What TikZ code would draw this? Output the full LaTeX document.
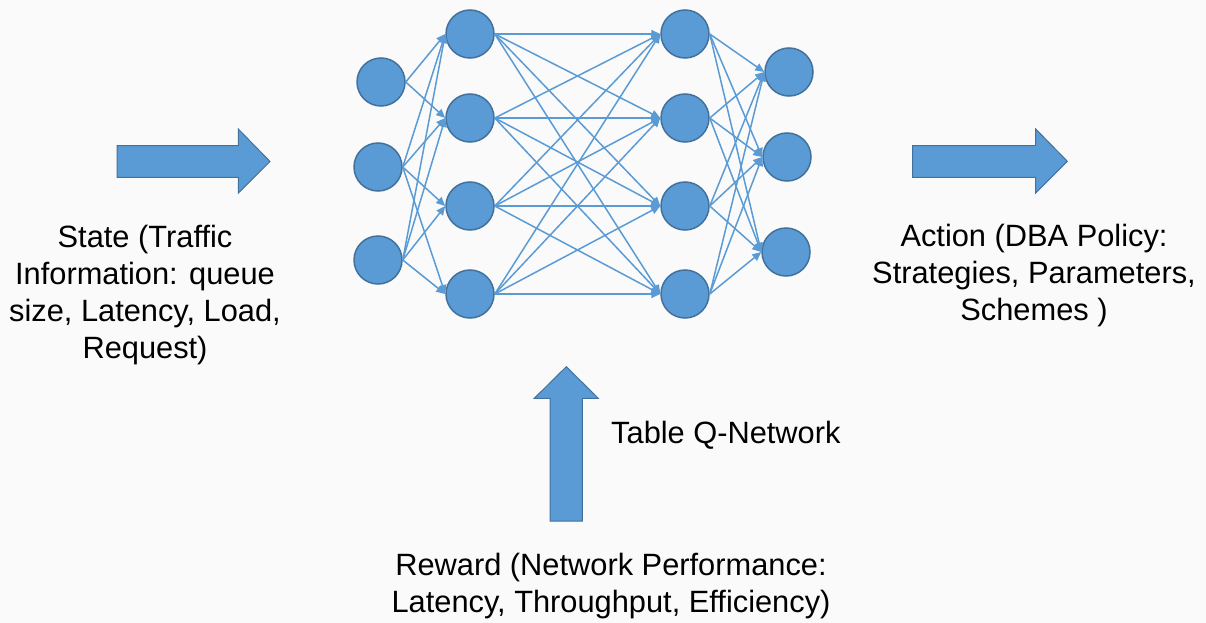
\documentclass[tikz,border=0pt]{standalone}
\usepackage{fontspec}
\setmainfont{Liberation Sans}
\usetikzlibrary{arrows.meta}
\definecolor{bgcol}{HTML}{FAFAFA}
\definecolor{nodeblue}{HTML}{5B9BD5}
\definecolor{borderblue}{HTML}{41719C}
\tikzset{
  neuron/.style={circle, minimum size=48pt, inner sep=0pt, fill=nodeblue, draw=borderblue, line width=1.5pt},
  conn/.style={draw=nodeblue, line width=1.5pt, -{Triangle[length=9pt,width=8pt]}},
  blockarrow/.style={fill=nodeblue, draw=borderblue, line width=1pt, line join=miter},
  label/.style={font=\fontsize{30.8}{37}\selectfont, align=center, inner sep=0pt, text=black}
}
\begin{document}
\begin{tikzpicture}[x=1pt, y=-1pt]
\fill[bgcol] (0,0) rectangle (1206,623);
\useasboundingbox (0,0) rectangle (1206,623);
% layer 1
\node[neuron] (a1) at (381,82) {};
\node[neuron] (a2) at (378,167) {};
\node[neuron] (a3) at (378,260) {};
% layer 2
\node[neuron] (b1) at (470,34) {};
\node[neuron] (b2) at (470,118) {};
\node[neuron] (b3) at (470,206) {};
\node[neuron] (b4) at (470,294) {};
% layer 3
\node[neuron] (c1) at (685,34) {};
\node[neuron] (c2) at (685,118) {};
\node[neuron] (c3) at (685,206) {};
\node[neuron] (c4) at (685,294) {};
% layer 4
\node[neuron] (d1) at (789,72) {};
\node[neuron] (d2) at (787,157) {};
\node[neuron] (d3) at (786,252) {};
% connectors layer 1 -> 2
\draw[conn] (a1.east) -- (b1.west);
\draw[conn] (a1.east) -- (b2.west);
\foreach \s in {a2,a3}{
  \foreach \t in {b1,b2,b3,b4}{
    \draw[conn] (\s.east) -- (\t.west);
  }
}
% layer 2 -> 3
\foreach \s in {b1,b2,b3,b4}{
  \foreach \t in {c1,c2,c3,c4}{
    \draw[conn] (\s.east) -- (\t.west);
  }
}
% layer 3 -> 4
\foreach \s in {c1,c2,c3,c4}{
  \foreach \t in {d1,d2,d3}{
    \draw[conn] (\s.east) -- (\t.west);
  }
}
% block arrows
\draw[blockarrow] (117,145.7) -- (238.3,145.7) -- (238.3,129) -- (270,161.5) -- (238.3,193) -- (238.3,177.3) -- (117,177.3) -- cycle;
\draw[blockarrow] (912.7,145.7) -- (1035.7,145.7) -- (1035.7,129) -- (1067.3,161.3) -- (1035.7,193) -- (1035.7,177.3) -- (912.7,177.3) -- cycle;
\draw[blockarrow] (550,521) -- (550,398.3) -- (534.3,398.3) -- (566.3,366.7) -- (598.3,398.3) -- (582.3,398.3) -- (582.3,521) -- cycle;
% texts (base = baseline of last line)
\node[label, anchor=base] (state) at (145,358) {State (Traffic\\Information: queue\\size, Latency, Load,\\Request)};
\node[label, anchor=base] (action) at (1034,320) {Action (DBA Policy:\\Strategies, Parameters,\\Schemes )};
\node[label, anchor=base] (reward) at (611,612) {Reward (Network Performance:\\Latency, Throughput, Efficiency)};
\node[label, anchor=base west] (qnet) at (611,443) {Table Q-Network};
\end{tikzpicture}
\end{document}
